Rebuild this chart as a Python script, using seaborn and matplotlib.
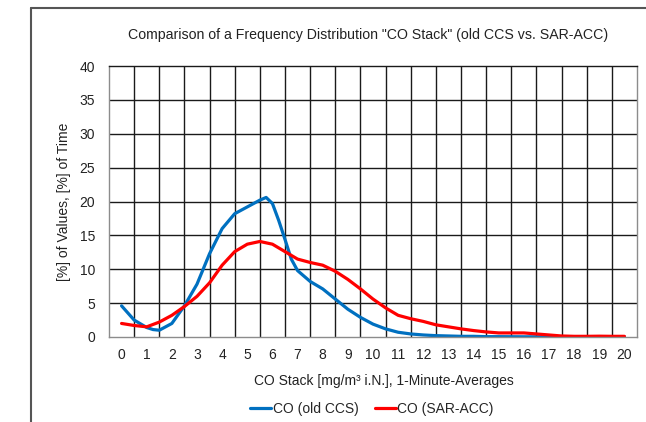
import numpy as np
import pandas as pd
import matplotlib
matplotlib.use("Agg")
import matplotlib.pyplot as plt
import seaborn as sns
from matplotlib.lines import Line2D

# values
x_old = [0, 0.5, 1, 1.25, 1.5, 2, 2.5, 3, 3.5, 4, 4.5, 5, 5.5, 5.75, 6, 6.25, 6.5, 6.75, 7,
         7.5, 8, 8.5, 9, 9.5, 10, 10.5, 11, 11.5, 12, 12.5, 13, 13.5, 14, 14.5, 15,
         16, 17, 18, 19, 20]
co_old = [4.6, 2.5, 1.4, 1.1, 1.0, 2.0, 4.6, 7.8, 12.3, 16.0, 18.2, 19.2, 20.2, 20.6, 19.7, 17.2,
          14.4, 11.5, 9.8, 8.2, 7.1, 5.6, 4.1, 2.9, 1.9, 1.2, 0.7, 0.45, 0.3, 0.2, 0.15,
          0.1, 0.1, 0.05, 0.05, 0.03, 0.03, 0.02, 0.02, 0.02]

x_sar = [0, 0.5, 1, 1.5, 2, 2.5, 3, 3.5, 4, 4.5, 5, 5.5, 6, 6.5, 7, 7.5, 8, 8.5, 9, 9.5,
         10, 10.5, 11, 11.5, 12, 12.5, 13, 13.5, 14, 14.5, 15, 15.5, 16, 16.5, 17, 17.5,
         18, 18.5, 19, 19.5, 20]
co_sar = [2.0, 1.7, 1.5, 2.2, 3.2, 4.5, 6.0, 8.0, 10.6, 12.6, 13.7, 14.1, 13.7, 12.6, 11.5,
          11.0, 10.6, 9.7, 8.5, 7.1, 5.6, 4.3, 3.2, 2.7, 2.3, 1.8, 1.5, 1.2, 0.95, 0.75,
          0.6, 0.6, 0.6, 0.45, 0.3, 0.15, 0.1, 0.1, 0.12, 0.1, 0.1]

series_names = ["CO (old CCS)", "CO (SAR-ACC)"]
x_ticks = list(range(0, 21))
y_ticks = [0, 5, 10, 15, 20, 25, 30, 35, 40]

df = pd.concat([
    pd.DataFrame({"x": x_old, "y": co_old, "series": series_names[0]}),
    pd.DataFrame({"x": x_sar, "y": co_sar, "series": series_names[1]}),
])

sns.set_style("white")
plt.rcParams["font.family"] = ["Liberation Sans", "DejaVu Sans"]

fig = plt.figure(figsize=(6.46, 4.22), dpi=100)
ax = fig.add_axes([109 / 646, 1 - 337 / 422, 528 / 646, 271 / 422])

sns.lineplot(data=df, x="x", y="y", hue="series", hue_order=series_names,
             palette=["#0070C0", "#FF0000"], lw=2.3, ax=ax, sort=False)
for ln in ax.lines:
    ln.set_solid_joinstyle("round")
    ln.set_solid_capstyle("round")

ax.set_xlim(-0.5, 20.5)
ax.set_ylim(0, 40)
ax.set_xticks(x_ticks)
ax.set_yticks(y_ticks)
ax.tick_params(labelsize=10, length=0, colors="#222222")
ax.tick_params(axis="x", pad=8)
ax.tick_params(axis="y", pad=10)

# grid: vertical lines between categories, horizontal every 5
for xv in np.arange(0.5, 20.5, 1):
    ax.axvline(xv, color="#1a1a1a", lw=1, zorder=0)
for yv in y_ticks[1:-1]:
    ax.axhline(yv, color="#1a1a1a", lw=1, zorder=0)
for s in ax.spines.values():
    s.set_color("#8c8c8c")
    s.set_linewidth(1)
ax.spines["top"].set_color("#1a1a1a")

ax.set_xlabel("CO Stack [mg/m³ i.N.], 1-Minute-Averages", fontsize=10, color="#222222")
ax.xaxis.set_label_coords(0.52, -0.135)
ax.set_ylabel("[%] of Values, [%] of Time", fontsize=10, color="#222222")
ax.yaxis.set_label_coords(-0.072, 0.5)
fig.text(368 / 646, 1 - 35 / 422, 'Comparison of a Frequency Distribution "CO Stack" (old CCS vs. SAR-ACC)',
         ha="center", va="center", fontsize=10.2, color="#222222")

handles, labels = ax.get_legend_handles_labels()
ax.legend(handles, labels, loc="center", bbox_to_anchor=(372 / 646, 1 - 409 / 422),
          bbox_transform=fig.transFigure, ncol=2, frameon=False, fontsize=10,
          handlelength=1.5, handletextpad=0.1, columnspacing=1.2)

# outer chart frame (left and top edges visible)
fig.add_artist(Line2D([31 / 646, 31 / 646], [0, 1 - 8 / 422], color="#555555", lw=1.5))
fig.add_artist(Line2D([31 / 646, 1], [1 - 8 / 422, 1 - 8 / 422], color="#555555", lw=1.5))

fig.savefig("out.png", dpi=100)
